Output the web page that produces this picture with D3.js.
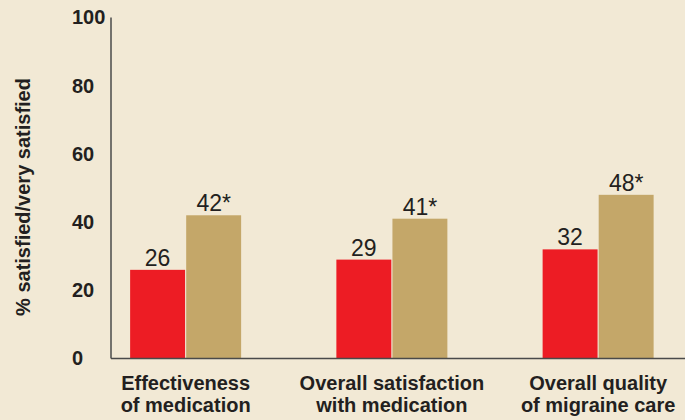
<!DOCTYPE html>
<html>
<head>
<meta charset="utf-8">
<script src="https://cdn.jsdelivr.net/npm/d3@7"></script>
<style>
  body { margin: 0; background: #f2e9d5; }
  svg { display: block; font-family: "Liberation Sans", Arial, Helvetica, sans-serif; }
</style>
</head>
<body>
<div id="chart"></div>
<script>
// chart data
const categories = ["Effectiveness of medication", "Overall satisfaction with medication", "Overall quality of migraine care"];
const categoryLines = [["Effectiveness", "of medication"], ["Overall satisfaction", "with medication"], ["Overall quality", "of migraine care"]];
const seriesKeys = ["before", "after"];
const beforeValues = [26, 29, 32];
const afterValues = [42, 41, 48];
const significant = [false, true];   // asterisk on the "after" bars
const yTicks = [0, 20, 40, 60, 80, 100];
const yTitle = "% satisfied/very satisfied";

const width = 685, height = 420;
const colors = { before: "#ed1c24", after: "#c4a769" };
const textColor = "#231f20";

const svg = d3.select("#chart").append("svg")
    .attr("width", width)
    .attr("height", height);

svg.append("rect")
    .attr("width", width).attr("height", height)
    .attr("fill", "#f2e9d5");

const axisX = 111;
const y = d3.scaleLinear().domain([0, 100]).range([358.5, 17.5]);
const x0 = d3.scaleBand().domain(categories).range([82.5, 701.25]);
const x1 = d3.scaleBand().domain(seriesKeys).range([-55.5, 55.5]).paddingInner(0.02);

const data = categories.map((c, i) => ({
    category: c,
    before: beforeValues[i],
    after: afterValues[i]
}));

// bars
const groups = svg.selectAll(".group")
    .data(data)
    .enter().append("g")
    .attr("class", "group")
    .attr("transform", d => `translate(${x0(d.category) + x0.bandwidth() / 2},0)`);

groups.selectAll("rect")
    .data(d => seriesKeys.map(k => ({ key: k, value: d[k] })))
    .enter().append("rect")
    .attr("x", d => x1(d.key))
    .attr("y", d => y(d.value))
    .attr("width", x1.bandwidth())
    .attr("height", d => y(0) - y(d.value))
    .attr("fill", d => colors[d.key]);

// value labels
groups.selectAll(".val")
    .data(d => seriesKeys.map((k, j) => ({ key: k, value: d[k], star: significant[j] })))
    .enter().append("text")
    .attr("class", "val")
    .attr("x", d => x1(d.key) + x1.bandwidth() / 2)
    .attr("y", d => y(d.value) - 4)
    .attr("text-anchor", "middle")
    .style("font-size", "23px")
    .attr("fill", textColor)
    .text(d => d.value + (d.star ? "*" : ""));

// y axis
const yAxis = svg.append("g")
    .attr("transform", `translate(${axisX},0)`)
    .call(d3.axisLeft(y).tickValues(yTicks).tickSize(0));
yAxis.select(".domain").remove();
yAxis.selectAll("text")
    .attr("x", 72 - axisX)
    .attr("text-anchor", "start")
    .attr("fill", textColor)
    .style("font-size", "20px")
    .style("font-weight", "bold")
    .style("font-family", "'Liberation Sans', Arial, sans-serif");

svg.append("line")
    .attr("x1", axisX).attr("x2", axisX)
    .attr("y1", y(100)).attr("y2", y(0))
    .attr("stroke", "#4a4a4a").attr("stroke-width", 1.5);

svg.append("line")
    .attr("x1", axisX).attr("x2", width)
    .attr("y1", y(0)).attr("y2", y(0))
    .attr("stroke", "#4a4a4a").attr("stroke-width", 1.5);

svg.append("text")
    .attr("transform", `translate(23,${(y(0) + y(100)) / 2 + 9}) rotate(-90)`)
    .attr("text-anchor", "middle")
    .attr("dy", "0.35em")
    .attr("fill", textColor)
    .style("font-size", "20px")
    .style("font-weight", "bold")
    .text(yTitle);

// category labels
groups.each(function(d, i) {
    const t = d3.select(this).append("text")
        .attr("text-anchor", "middle")
        .attr("fill", textColor)
        .style("font-size", "20px")
        .style("font-weight", "bold");
    categoryLines[i].forEach((line, k) => {
        t.append("tspan")
            .attr("x", 0)
            .attr("y", 390 + k * 21.5)
            .text(line);
    });
});
</script>
</body>
</html>
